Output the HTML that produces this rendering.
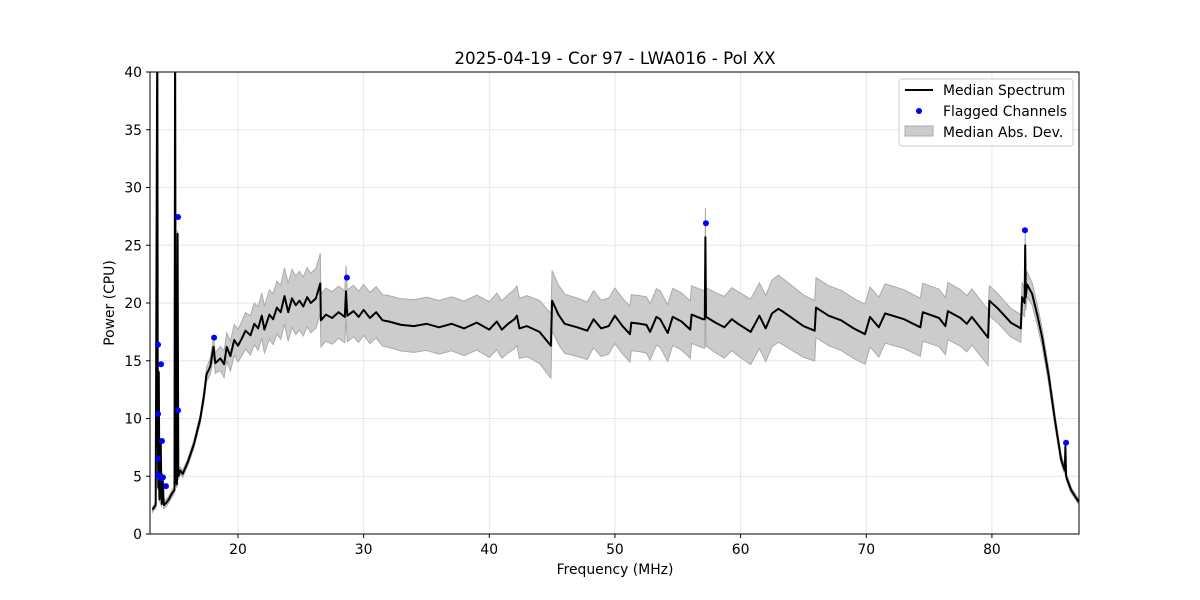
<!DOCTYPE html>
<html><head><meta charset="utf-8"><style>
body{margin:0;background:#fff}
svg{display:block;font-family:"DejaVu Sans","Liberation Sans",sans-serif}
</style></head><body>
<svg id="chart" width="1200" height="600" viewBox="0 0 1200 600">
<defs><clipPath id="pc"><rect x="150" y="72" width="929" height="462"/></clipPath></defs>
<rect width="1200" height="600" fill="#fff"/>
<g id="grid"></g>
<g clip-path="url(#pc)">
<path id="band" fill="#cccccc" stroke="#aaaaaa" stroke-width="1"/>
<path id="line" fill="none" stroke="#000" stroke-width="2" stroke-linejoin="round"/>
<g id="flags"></g>
</g>
<rect x="150" y="72" width="929" height="462" fill="none" stroke="#000" stroke-width="1"/>
<g id="ticks" font-size="13.9"></g>
<text x="615" y="64" text-anchor="middle" font-size="16.7">2025-04-19 - Cor 97 - LWA016 - Pol XX</text>
<text x="615" y="574" text-anchor="middle" font-size="13.9">Frequency (MHz)</text>
<text transform="translate(114,303) rotate(-90)" text-anchor="middle" font-size="13.9">Power (CPU)</text>
<g font-size="13.9">
<rect x="899" y="79" width="174" height="67" rx="3" fill="#fff" fill-opacity="0.8" stroke="#ccc"/>
<line x1="905" y1="90" x2="933" y2="90" stroke="#000" stroke-width="2"/>
<text x="943" y="95">Median Spectrum</text>
<circle cx="919" cy="111" r="3" fill="#0000ff"/>
<text x="943" y="116">Flagged Channels</text>
<rect x="905" y="126" width="28" height="10" fill="#cccccc" stroke="#aaaaaa"/>
<text x="943" y="137">Median Abs. Dev.</text>
</g>
</svg>
<script>
const freq=[13.2,13.45,13.58,13.62,13.66,13.7,13.75,13.85,13.92,14.0,14.1,14.3,14.5,14.8,14.95,15.0,15.05,15.15,15.2,15.25,15.4,15.6,16,16.5,17,17.3,17.5,17.8,18.05,18.2,18.6,18.9,19.1,19.4,19.7,20,20.3,20.6,21,21.3,21.6,21.9,22.1,22.5,22.8,23.1,23.4,23.7,24,24.3,24.6,24.9,25.2,25.5,25.8,26.2,26.55,26.6,27,27.5,28,28.5,28.6,28.7,29.2,29.6,30,30.5,31,31.5,32,33,34,35,36,37,38,39,40,40.6,41,41.5,42,42.2,42.4,43,44,44.9,45,45.5,46,47,47.8,48.3,48.9,49.5,50,50.6,51.2,51.3,52,52.5,52.8,53.3,53.6,54.2,54.6,55.3,56,56.1,57,57.15,57.2,57.25,58,58.7,59.3,59.8,60.8,61.5,62,62.5,63,63.3,65,65.9,66,67,68,69,69.9,70.3,71,71.5,73,74.3,74.5,75.8,76.3,76.5,77.5,78,78.4,79.7,79.8,80.5,81.5,82.3,82.4,82.6,82.65,82.7,82.8,83.2,83.6,84,84.5,85,85.5,85.8,85.85,85.9,86.3,86.9];
const median=[2.1,2.5,45,9,4,14,3,8,2.6,5,2.5,2.7,3.0,3.6,3.8,45,4.5,4.3,26,5,5.5,5.2,6.2,7.8,10,12,13.8,14.5,16.2,14.8,15.2,14.7,16.2,15.4,16.8,16.3,16.9,17.6,17.2,18.2,17.8,18.9,17.7,19.0,18.6,19.6,19.2,20.6,19.2,20.4,19.8,20.2,19.7,20.5,20.0,20.4,21.7,18.5,19.0,18.7,19.2,18.8,21,18.9,19.3,18.8,19.4,18.7,19.2,18.5,18.4,18.1,18.0,18.2,17.9,18.2,17.8,18.3,17.7,18.4,17.7,18.2,18.6,18.9,17.8,18.0,17.5,16.3,20.2,19.0,18.2,17.9,17.6,18.6,17.8,18.0,18.9,18.0,17.3,18.3,18.2,18.1,17.5,18.8,18.6,17.4,18.8,18.4,17.7,19.0,18.6,18.6,25.7,18.8,18.3,17.9,18.6,18.2,17.5,18.9,17.8,19.1,19.5,19.3,18.0,17.6,19.6,18.9,18.5,17.8,17.3,18.8,17.9,19.1,18.6,17.9,19.2,18.7,18.0,19.3,18.7,18.2,18.8,17.0,20.2,19.5,18.3,17.8,20.5,20.0,25.0,20.5,21.6,20.8,19.0,17.0,13.8,10.0,6.5,5.5,7.6,5.0,3.8,2.8];
const madFreq=[13,14,15,16,17,18,19,20,22,24,26.55,26.6,30,35,40,44.9,45,50,57,60,63,66,70,75,79.7,79.8,82.3,82.4,83,84,86,87];
const madVal=[0.2,0.3,0.3,0.3,0.4,0.8,1.2,1.4,2.0,2.5,2.6,2.3,2.2,2.3,2.4,2.8,2.6,2.4,2.5,2.8,2.9,2.6,2.6,2.5,2.4,1.3,1.2,1.3,1.0,0.8,0.3,0.2];
const flagFreq=[13.64,13.88,13.64,13.95,13.64,13.64,13.88,14.03,14.27,15.23,15.23,18.1,28.67,57.24,82.63,85.9];
const flagPower=[16.4,14.7,10.4,8.05,6.5,5.1,4.8,4.9,4.15,27.45,10.7,17.0,22.2,26.9,26.3,7.9];
const xTicks=[20,30,40,50,60,70,80];
const yTicks=[0,5,10,15,20,25,30,35,40];

const X0=150,X1=1079,Y0=534,Y1=72,FMIN=13.0,FMAX=86.93,PMIN=0,PMAX=40;
const sx=f=>X0+(f-FMIN)/(FMAX-FMIN)*(X1-X0);
const sy=v=>Y0-(v-PMIN)/(PMAX-PMIN)*(Y0-Y1);
const NS='http://www.w3.org/2000/svg';
function mk(tag,attrs,parent){const e=document.createElementNS(NS,tag);for(const k in attrs)e.setAttribute(k,attrs[k]);parent.appendChild(e);return e;}
function madAt(f){if(f<=madFreq[0])return madVal[0];for(let i=1;i<madFreq.length;i++){if(f<=madFreq[i]){const t=(f-madFreq[i-1])/(madFreq[i]-madFreq[i-1]);return madVal[i-1]+t*(madVal[i]-madVal[i-1]);}}return madVal[madVal.length-1];}

const grid=document.getElementById('grid'),ticks=document.getElementById('ticks');
xTicks.forEach(t=>{const x=sx(t);
 const g=mk('line',{x1:x,x2:x,y1:Y1,y2:Y0,stroke:'#e6e6e6','stroke-width':1},grid);
 
 
 const tk=mk('line',{x1:x,x2:x,y1:Y0,y2:Y0+4,stroke:'#000'},ticks);
 
 
 const tx=mk('text',{x:x,y:Y0+20,'text-anchor':'middle'},ticks);tx.textContent=t;
 
 });
yTicks.forEach(t=>{const y=sy(t);
 const g=mk('line',{x1:X0,x2:X1,y1:y,y2:y,stroke:'#e6e6e6','stroke-width':1},grid);
 
 
 const tk=mk('line',{x1:X0-4,x2:X0,y1:y,y2:y,stroke:'#000'},ticks);
 
 
 const tx=mk('text',{x:X0-8,y:y+5,'text-anchor':'end'},ticks);tx.textContent=t;
 
 });

let up='',lo='',ln='';
freq.forEach((f,i)=>{const m=median[i],d=madAt(f);
 up+=(i?'L':'M')+sx(f).toFixed(1)+','+sy(m+d).toFixed(1);
 ln+=(i?'L':'M')+sx(f).toFixed(1)+','+sy(m).toFixed(1);});
for(let i=freq.length-1;i>=0;i--){lo+='L'+sx(freq[i]).toFixed(1)+','+sy(median[i]-madAt(freq[i])).toFixed(1);}
document.getElementById('band').setAttribute('d',up+lo+'Z');
document.getElementById('line').setAttribute('d',ln);
const fl=document.getElementById('flags');
flagFreq.forEach((f,i)=>{const c=mk('circle',{cx:sx(f),cy:sy(flagPower[i]),r:3,fill:'#0000ff'},fl);
 
 });
</script>
</body></html>
